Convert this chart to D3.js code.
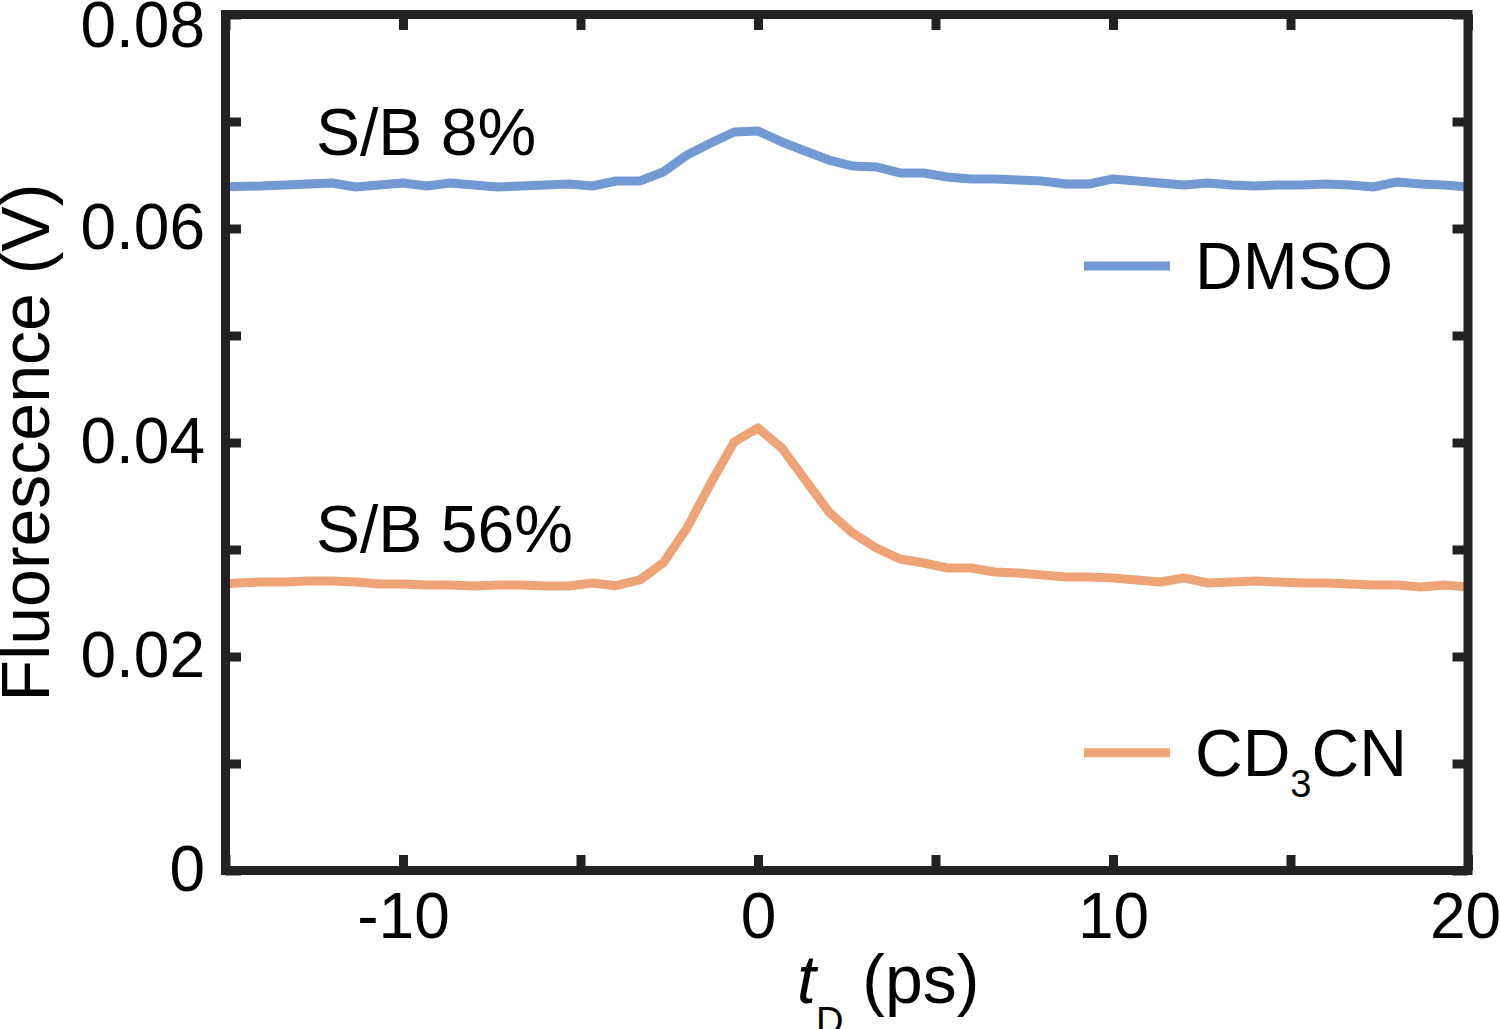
<!DOCTYPE html>
<html>
<head>
<meta charset="utf-8">
<script src="https://cdn.jsdelivr.net/npm/d3@7"></script>
<style>
  html, body { margin: 0; padding: 0; background: #fff; }
  svg { display: block; font-family: "Liberation Sans", Arial, Helvetica, sans-serif; }
</style>
</head>
<body>
<svg id="chart" width="1500" height="1029"></svg>
<script>
// ---- data ----
const delays = [-15.33,-14.67,-14.00,-13.33,-12.67,-12.00,-11.33,-10.67,-10.00,-9.33,-8.67,-8.00,-7.33,-6.67,-6.00,-5.33,-4.67,-4.00,-3.33,-2.67,-2.00,-1.33,-0.67,0.00,0.67,1.33,2.00,2.67,3.33,4.00,4.67,5.33,6.00,6.67,7.33,8.00,8.67,9.33,10.00,10.67,11.33,12.00,12.67,13.33,14.00,14.67,15.33,16.00,16.67,17.33,18.00,18.67,19.33,20.00];
const dmso = [0.06388,0.06393,0.06397,0.06407,0.06416,0.06425,0.06388,0.06407,0.06425,0.06397,0.06425,0.06407,0.06388,0.06397,0.06407,0.06416,0.06397,0.06444,0.06444,0.06528,0.06687,0.06799,0.06902,0.06911,0.06809,0.06725,0.06640,0.06584,0.06575,0.06519,0.06519,0.06481,0.06463,0.06463,0.06453,0.06444,0.06416,0.06416,0.06463,0.06444,0.06425,0.06407,0.06425,0.06407,0.06397,0.06407,0.06407,0.06416,0.06407,0.06388,0.06435,0.06416,0.06407,0.06388];
const cd3cn = [0.02668,0.02687,0.02696,0.02696,0.02706,0.02706,0.02696,0.02678,0.02678,0.02668,0.02668,0.02659,0.02668,0.02668,0.02659,0.02659,0.02687,0.02662,0.02715,0.02874,0.03201,0.03621,0.04005,0.04136,0.03949,0.03650,0.03350,0.03154,0.03014,0.02911,0.02874,0.02827,0.02827,0.02790,0.02780,0.02762,0.02743,0.02743,0.02734,0.02715,0.02696,0.02734,0.02687,0.02696,0.02706,0.02696,0.02687,0.02687,0.02678,0.02668,0.02668,0.02650,0.02668,0.02650];
const xTicks = [-15, -10, -5, 0, 5, 10, 15, 20];
const xTickLabels = {"-10": "-10", "0": "0", "10": "10", "20": "20"};
const yTicks = [0, 0.01, 0.02, 0.03, 0.04, 0.05, 0.06, 0.07, 0.08];
const yTickLabels = {"0": "0", "0.02": "0.02", "0.04": "0.04", "0.06": "0.06", "0.08": "0.08"};
const seriesNames = ["DMSO", "CD3CN"];
const annotations = [{text: "S/B 8%", x: -12.3, y: 0.06687}, {text: "S/B 56%", x: -12.3, y: 0.02977}];

// ---- layout ----
const L = 225.5, R = 1468, T = 14.5, B = 870.5;
const colors = {DMSO: "#7399d3", CD3CN: "#eea476"};
const frameColor = "#222";
const svg = d3.select("#chart");

const x = d3.scaleLinear().domain([-15, 20]).range([L, R]);
const y = d3.scaleLinear().domain([0, 0.08]).range([B, T]);

svg.append("defs").append("clipPath").attr("id", "plotclip")
  .append("rect").attr("x", L).attr("y", T).attr("width", R - L).attr("height", B - T);

// lines
const line = d3.line().x((d, i) => x(delays[i])).y(d => y(d));
const plot = svg.append("g").attr("clip-path", "url(#plotclip)");
[["DMSO", dmso], ["CD3CN", cd3cn]].forEach(([name, vals]) => {
  plot.append("path").datum(vals)
    .attr("d", line)
    .attr("fill", "none")
    .attr("stroke", colors[name])
    .attr("stroke-width", 9)
    .attr("stroke-linejoin", "round");
});

// axes
const tickLen = 15.5;
const fmtX = d => xTickLabels[String(d)] || "";
const fmtY = d => yTickLabels[String(+d.toFixed(2))] || "";

function styleAxis(g) {
  g.select(".domain").remove();
  g.selectAll(".tick line").attr("stroke", frameColor).attr("stroke-width", 9);
  g.selectAll(".tick text").attr("fill", "#000").attr("font-size", 64)
    .attr("font-family", "'Liberation Sans', Arial, sans-serif");
}

const gx = svg.append("g").attr("transform", `translate(0,${B})`)
  .call(d3.axisBottom(x).tickValues(xTicks).tickSize(-tickLen).tickPadding(22).tickFormat(fmtX))
  .call(styleAxis);
gx.selectAll(".tick text").filter(d => d === 20).attr("dx", -3);

svg.append("g").attr("transform", `translate(0,${T})`)
  .call(d3.axisTop(x).tickValues(xTicks).tickSize(-tickLen).tickFormat(""))
  .call(styleAxis);
const gy = svg.append("g").attr("transform", `translate(${L},0)`)
  .call(d3.axisLeft(y).tickValues(yTicks).tickSize(-tickLen).tickPadding(20.5).tickFormat(fmtY))
  .call(styleAxis);
gy.selectAll(".tick text").filter(d => Math.abs(d - 0.08) < 1e-9).attr("y", 12);

svg.append("g").attr("transform", `translate(${R},0)`)
  .call(d3.axisRight(y).tickValues(yTicks).tickSize(-tickLen).tickFormat(""))
  .call(styleAxis);

// frame
svg.append("rect").attr("x", L).attr("y", T).attr("width", R - L).attr("height", B - T)
  .attr("fill", "none").attr("stroke", frameColor).attr("stroke-width", 9);

// axis titles
svg.append("text")
  .attr("transform", `translate(49,${(T + B) / 2}) rotate(-90)`)
  .attr("text-anchor", "middle").attr("font-size", 68).attr("fill", "#000")
  .text("Fluorescence (V)");

const xt = svg.append("text").attr("x", 797).attr("y", 1003).attr("font-size", 68).attr("fill", "#000");
xt.append("tspan").attr("font-style", "italic").text("t");
xt.append("tspan").attr("font-size", 38).attr("dy", 31).text("D");
xt.append("tspan").attr("dy", -31).text(" (ps)");

// annotations
annotations.forEach(a => {
  svg.append("text").attr("x", 316).attr("y", y(a.y)).attr("font-size", 66).attr("fill", "#000").text(a.text);
});

// legend
const legendY = {DMSO: 0.0565, CD3CN: 0.0110};
seriesNames.forEach(name => {
  const ly = y(legendY[name]);
  svg.append("line").attr("x1", 1084).attr("x2", 1170).attr("y1", ly).attr("y2", ly)
    .attr("stroke", colors[name]).attr("stroke-width", 9);
  const t = svg.append("text").attr("x", 1195).attr("y", ly + 23).attr("font-size", 66).attr("fill", "#000");
  if (name === "CD3CN") {
    t.append("tspan").text("CD");
    t.append("tspan").attr("font-size", 38).attr("dy", 21).text("3");
    t.append("tspan").attr("dy", -21).text("CN");
  } else {
    t.text(name);
  }
});
</script>
</body>
</html>
